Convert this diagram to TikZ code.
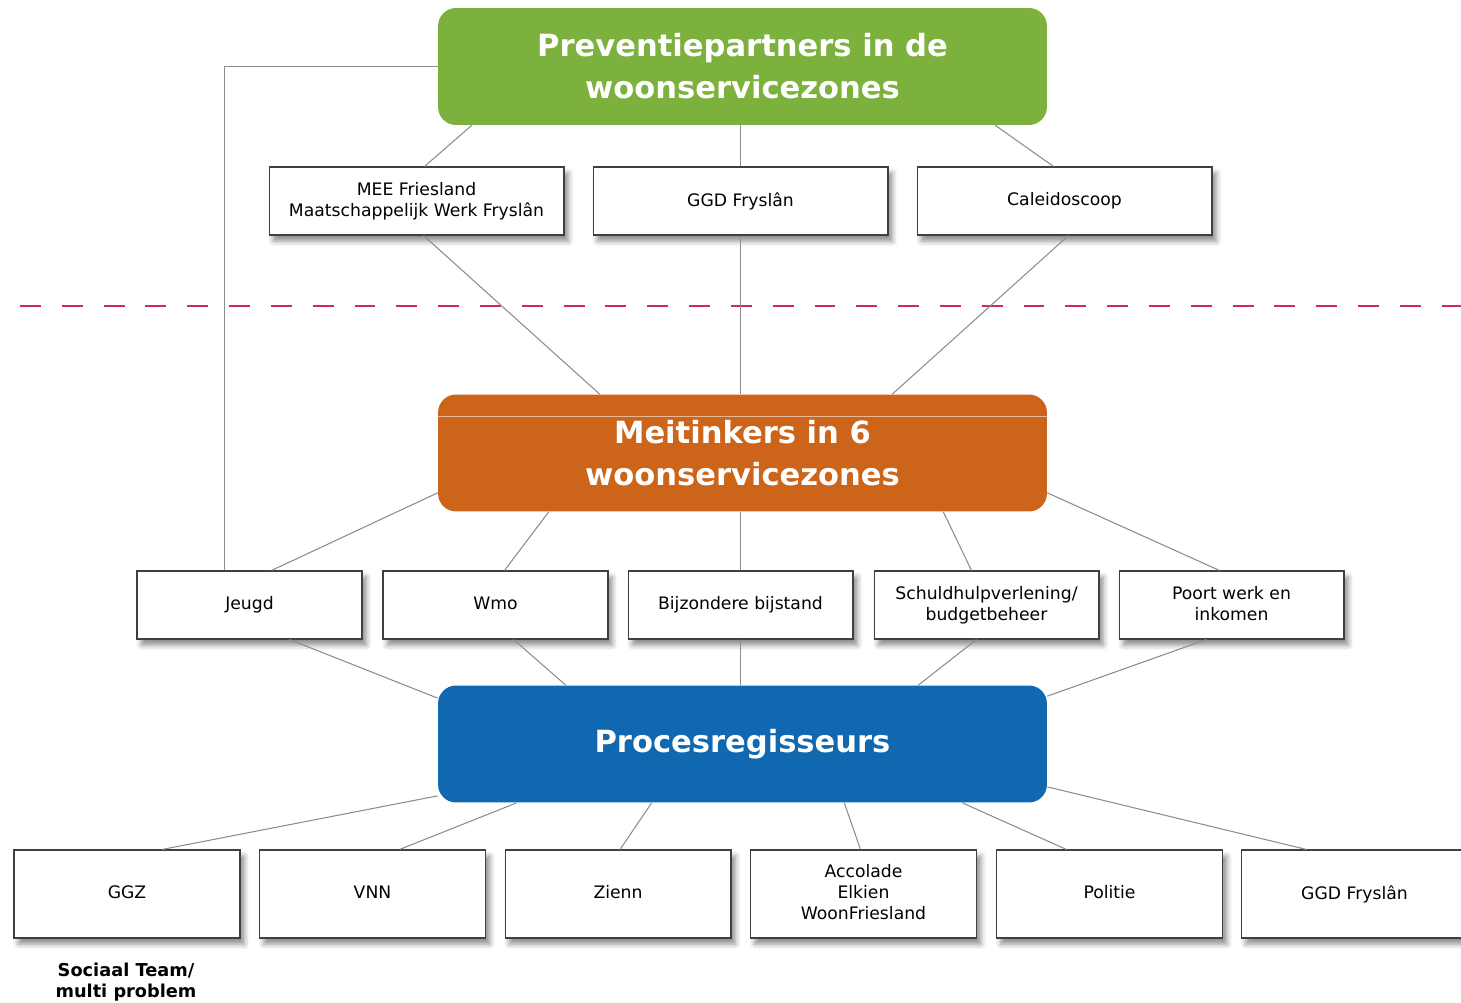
\documentclass[tikz,border=0pt]{standalone}
\usepackage{fontspec}
\setmainfont{DejaVu Sans}
\usetikzlibrary{positioning,calc,shadows.blur}
\definecolor{groen}{RGB}{125,177,61}
\definecolor{oranje}{RGB}{204,100,25}
\definecolor{blauw}{RGB}{15,104,176}
\definecolor{streep}{RGB}{208,40,100}
\definecolor{lijn}{RGB}{140,140,140}
\tikzset{
  smallbox/.style={rectangle,draw=black!75,line width=0.6pt,fill=white,align=center,inner sep=0pt,
    font=\fontsize{9.8}{12}\selectfont,
    execute at begin node={\vphantom{Ag}},execute at end node={\vphantom{Ag}},
    blur shadow={shadow xshift=2.5pt,shadow yshift=-3.5pt,shadow opacity=45,shadow blur radius=3pt}},
  boxA/.style={smallbox,minimum width=5.9cm,minimum height=1.36cm},
  boxB/.style={smallbox,minimum width=4.5cm,minimum height=1.36cm},
  boxC/.style={smallbox,minimum width=4.52cm,minimum height=1.76cm},
  headbox/.style={rectangle,rounded corners=0.36cm,minimum width=12.18cm,minimum height=2.34cm,
    align=center,text=white,inner sep=0pt,font=\bfseries\fontsize{17.4}{23.8}\selectfont},
  link/.style={draw=lijn,line width=0.6pt}
}
\begin{document}
\begin{tikzpicture}[x=0.02cm,y=-0.02cm]
\useasboundingbox (0,0) rectangle (1461,1003);
\draw[streep,line width=1.1pt,dash pattern=on 11.9pt off 11.9pt] (20,306) -- (1461,306);
\node at (742.5,66.5)[headbox,fill=groen](groen){Preventiepartners in de\\woonservicezones};
\node at (742.5,453)[headbox,fill=oranje](oranje){Meitinkers in 6\\woonservicezones};
\node at (742.5,744)[headbox,fill=blauw](blauw){Procesregisseurs};
\draw[oranje!45!white,line width=0.6pt] ($(oranje.north west)+(0,22)$) -- ($(oranje.north east)+(0,22)$);
% preventiepartners
\node at (416.5,201)[boxA](mee){MEE Friesland\\Maatschappelijk Werk Fryslân};
\node at (740.5,201)[boxA](ggdA){GGD Fryslân};
\node at (1064.5,201)[boxA](cal){Caleidoscoop};
% meitinkers
\node at (249.5,605)[boxB](jeugd){Jeugd};
\node at (495.5,605)[boxB](wmo){Wmo};
\node at (740.5,605)[boxB](bijz){Bijzondere bijstand};
\node at (986.5,605)[boxB](schuld){Schuldhulpverlening/\\budgetbeheer};
\node at (1231.5,605)[boxB](poort){Poort werk en\\inkomen};
% procesregisseurs
\node at (127,894)[boxC](ggz){GGZ};
\node at (372.5,894)[boxC](vnn){VNN};
\node at (618,894)[boxC](zienn){Zienn};
\node at (863.5,894)[boxC](acc){Accolade\\Elkien\\WoonFriesland};
\node at (1109.5,894)[boxC](politie){Politie};
\node at (1354.5,894)[boxC](ggdB){GGD Fryslân};
\node at (126,982)[align=center,font=\bfseries\fontsize{10.1}{11.9}\selectfont](sociaal){Sociaal Team/\\multi problem};
% verbindingen
\draw[link] ($(groen.south west)+(34,0)$) -- ($(mee.north)+(8,0)$);
\draw[link] (groen.south -| ggdA.north) -- (ggdA.north);
\draw[link] ($(groen.south east)+(-52,0)$) -- ($(cal.north)+(-11,0)$);
\draw[link] (groen.west) -| ($(jeugd.north)+(-25,0)$);
\draw[link] ($(mee.south)+(7,0)$) -- ($(oranje.north west)+(162,0)$);
\draw[link] (ggdA.south) -- (ggdA.south |- oranje.north);
\draw[link] ($(cal.south)+(4,0)$) -- ($(oranje.north east)+(-155,0)$);
\draw[link] ($(oranje.south west)+(0,-19)$) -- ($(jeugd.north)+(22,0)$);
\draw[link] ($(oranje.south west)+(111,0)$) -- ($(wmo.north)+(9,0)$);
\draw[link] (bijz.north |- oranje.south) -- (bijz.north);
\draw[link] ($(oranje.south east)+(-104,0)$) -- ($(schuld.north)+(-15,0)$);
\draw[link] ($(oranje.south east)+(0,-19)$) -- ($(poort.north)+(-12,0)$);
\draw[link] ($(jeugd.south)+(40,0)$) -- ($(blauw.north west)+(0,13)$);
\draw[link] ($(wmo.south)+(18,0)$) -- ($(blauw.north west)+(128,0)$);
\draw[link] (bijz.south) -- (bijz.south |- blauw.north);
\draw[link] ($(schuld.south)+(-10,0)$) -- ($(blauw.north east)+(-129,0)$);
\draw[link] ($(poort.south)+(-25,0)$) -- ($(blauw.north east)+(0,11)$);
\draw[link] ($(blauw.south west)+(0,-7)$) -- ($(ggz.north)+(35,0)$);
\draw[link] ($(blauw.south west)+(79,0)$) -- ($(vnn.north)+(27,0)$);
\draw[link] ($(blauw.south west)+(214,0)$) -- ($(zienn.north)+(2,0)$);
\draw[link] ($(blauw.south east)+(-203,0)$) -- ($(acc.north)+(-3,0)$);
\draw[link] ($(blauw.south east)+(-85,0)$) -- ($(politie.north)+(-43,0)$);
\draw[link] ($(blauw.south east)+(0,-16)$) -- ($(ggdB.north)+(-48,0)$);
\end{tikzpicture}
\end{document}
